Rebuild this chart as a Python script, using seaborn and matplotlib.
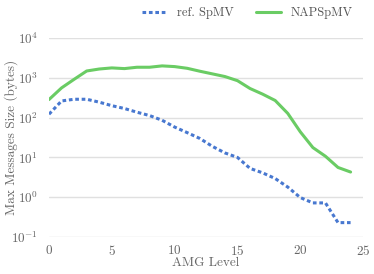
import numpy as np
import pandas as pd
import matplotlib
matplotlib.use("Agg")
import matplotlib.pyplot as plt
import seaborn as sns

# AMG levels and max message sizes (bytes)
levels = list(range(25))
ref_spmv = [122, 263, 290, 290, 245, 200, 170, 137, 113, 86, 58, 42,
            30, 19, 13, 10, 5.3, 4.1, 2.95, 1.8, 0.98, 0.72, 0.72, 0.23, 0.23]
nap_spmv = [285, 560, 920, 1490, 1670, 1780, 1710, 1850, 1850, 2000, 1920, 1740,
            1470, 1260, 1080, 850, 540, 390, 270, 128, 44, 17.7, 10.7, 5.6, 4.3]
series_names = ["ref. SpMV", "NAPSpMV"]

df = pd.concat([
    pd.DataFrame({"level": levels, "size": ref_spmv, "method": series_names[0]}),
    pd.DataFrame({"level": levels, "size": nap_spmv, "method": series_names[1]}),
])

sns.set_theme(style="whitegrid", palette="muted")
plt.rcParams["font.family"] = ["cmr10", "DejaVu Serif"]
plt.rcParams["mathtext.fontset"] = "cm"
plt.rcParams["axes.formatter.use_mathtext"] = True

pal = sns.color_palette("muted")
fig = plt.figure(figsize=(3.74, 2.74), dpi=100)
ax = fig.add_axes([0.131, 0.135, 0.84, 0.726])

sns.lineplot(data=df, x="level", y="size", hue="method", style="method",
             palette={series_names[0]: pal[0], series_names[1]: pal[2]},
             dashes={series_names[0]: (1.2, 0.9), series_names[1]: ""},
             linewidth=2.2, ax=ax)

ax.set_yscale("log")
ax.set_ylim(0.1, 1e4)
ax.set_xlim(0, 25)
ax.set_xticks([0, 5, 10, 15, 20, 25])
ax.set_xlabel("AMG Level", fontsize=9.5, labelpad=-1)
ax.set_ylabel("Max Messages Size (bytes)", fontsize=9.5)
ax.yaxis.set_label_coords(-0.1, 0.5)
ax.tick_params(axis="both", labelsize=9.5, colors="#666666", pad=2)
ax.tick_params(axis="x", pad=-1)
ax.xaxis.label.set_color("#666666")
ax.yaxis.label.set_color("#666666")
ax.grid(axis="x", visible=False)
ax.grid(axis="y", color="#e0e0e0", linewidth=1)
ax.minorticks_off()
for s in ax.spines.values():
    s.set_visible(False)

leg = ax.legend(loc="center right", bbox_to_anchor=(0.968, 1.125), ncol=2,
                frameon=False, fontsize=9, handlelength=2.0, handletextpad=0.8,
                columnspacing=1.8, borderaxespad=0, borderpad=0)
for t in leg.get_texts():
    t.set_color("#555555")

fig.savefig("out.png", dpi=100)
